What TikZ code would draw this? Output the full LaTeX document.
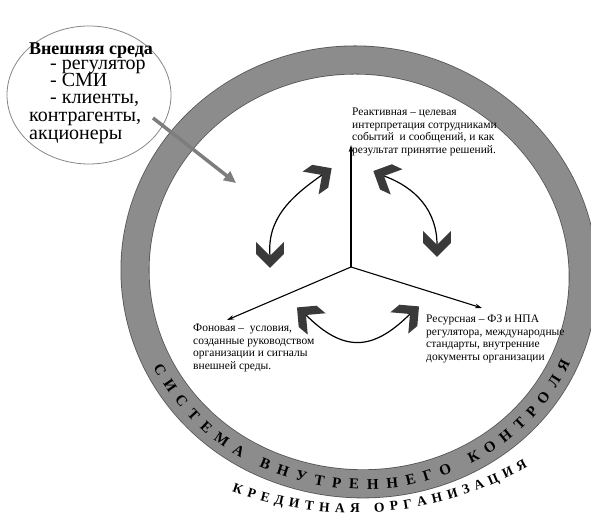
\documentclass[tikz,border=0pt]{standalone}
\usepackage{fontspec}
\setmainfont{Liberation Serif}
\usetikzlibrary{arrows.meta,decorations.text}
\definecolor{ringgray}{RGB}{140,140,140}
\definecolor{ringedge}{RGB}{85,85,85}
\definecolor{chevc}{RGB}{58,58,58}
\definecolor{bubedge}{RGB}{135,135,135}
\definecolor{arrgray}{RGB}{125,125,125}
\begin{document}
\begin{tikzpicture}[x=1pt,y=1pt,
  txt/.style={font=\fontsize{11.5}{12.5}\selectfont, align=left, inner sep=0pt, anchor=north west},
  bub/.style={font=\fontsize{20}{20}\selectfont, inner sep=0pt, anchor=base west},
  axisline/.style={line width=1.1pt, -{Stealth[length=7pt,width=4.5pt]}},
  cyc/.style={line width=1.2pt},
  chev/.pic={\fill[chevc, scale=1.07] (11,0) -- (-2,13) -- (-13,13) -- (0,0) -- (-13,-13) -- (-2,-13) -- cycle;},
  declare function={bmp(\t)=1+0.045*max(0,cos(\t+25))^2; ry(\t)=(\t<180)?210:212;}
]
\useasboundingbox (0,0) rectangle (591,518);
% external environment bubble
\draw[bubedge, line width=0.8pt, fill=white] (89,423) ellipse [x radius=82, y radius=69];
\node[font=\bfseries\fontsize{18}{18}\selectfont, anchor=base, inner sep=0pt] (exttitle) at (91,463) {Внешняя среда};
\node[bub] (b1) at (50,448.4) {- регулятор};
\node[bub] (b2) at (50,431.4) {- СМИ};
\node[bub] (b3) at (50,414.4) {- клиенты,};
\node[bub] (b4) at (29,396.4) {контрагенты,};
\node[bub] (b5) at (29,378.4) {акционеры};
% ring
\draw[ringedge, line width=0.8pt, double=ringgray, double distance=27.4pt]
  plot[domain=0:357, samples=120, smooth cycle]
  ({355+220*bmp(\x)*cos(\x)}, {248+ry(\x)*bmp(\x)*sin(\x)});
\path[decorate, decoration={text along path,
    text={|\bfseries\fontsize{15}{15}\selectfont|СИСТЕМА ВНУТРЕННЕГО КОНТРОЛЯ},
    text align=fit to path}]
  plot[domain=206.5:336, samples=31]
  ({355+225.5*bmp(\x)*cos(\x)}, {248+(ry(\x)+5.5)*bmp(\x)*sin(\x)});
\path[decorate, decoration={text along path,
    text={|\bfseries\fontsize{13.5}{13.5}\selectfont|КРЕДИТНАЯ ОРГАНИЗАЦИЯ},
    text align=fit to path}]
  (352.9,362.3) ++(250.2:357) arc[start angle=250.2, end angle=299.3, radius=357];
% gray arrow from the bubble
\coordinate (gs) at (153,400);
\coordinate (ge) at (236,335);
\draw[arrgray, line width=3.5pt, -{Triangle[length=12pt,width=11pt]}] (gs) -- (ge);
% axes
\coordinate (o) at (351,251);
\coordinate (up) at (351,373);
\coordinate (ll) at (227,198);
\coordinate (lr) at (482,210);
\draw[axisline] (o) -- (up);
\draw[axisline] (o) -- (ll);
\draw[axisline] (o) -- (lr);
% cycle arrows
\coordinate (c1a) at (270,262);
\coordinate (c1b) at (322,343);
\coordinate (c2a) at (384,342);
\coordinate (c2b) at (437,273);
\coordinate (c3a) at (306,203);
\coordinate (c3b) at (410,204);
\draw[cyc] (c1a) to[out=95,in=215] (c1b);
\draw[cyc] (c2a) to[out=-20,in=90] (c2b);
\draw[cyc] (c3a) to[out=-45,in=-135,looseness=1.3] (c3b);
\pic[rotate=-90] at (c1a) {chev};
\pic[rotate=35] at (c1b) {chev};
\pic[rotate=155] at (c2a) {chev};
\pic[rotate=-90] at (c2b) {chev};
\pic[rotate=140] at (c3a) {chev};
\pic[rotate=40] at (c3b) {chev};
% texts
\node[txt] (react) at (352,410) {Реактивная – целевая\\ интерпретация сотрудниками\\ событий\ \ и сообщений, и как\\ результат принятие решений.};
\node[txt] (fon) at (193,194) {Фоновая –\ \ условия,\\ созданные руководством\\ организации и сигналы\\ внешней среды.};
\node[txt] (res) at (426,203) {Ресурсная – ФЗ и НПА\\ регулятора, международные\\ стандарты, внутренние\\ документы организации};
\end{tikzpicture}
\end{document}
